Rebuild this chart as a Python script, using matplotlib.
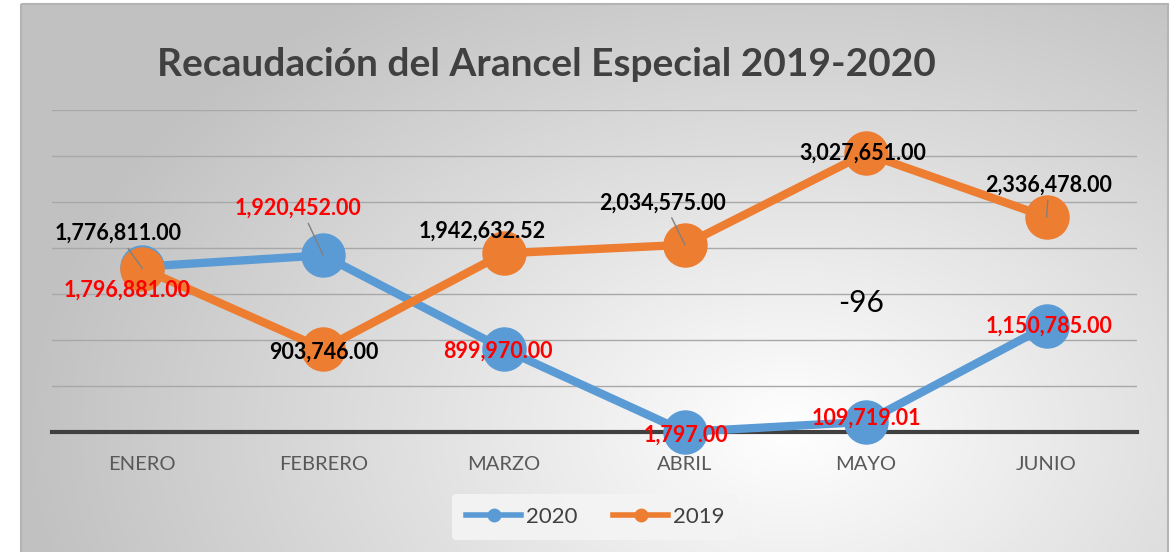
import numpy as np
import matplotlib.pyplot as plt
from matplotlib.lines import Line2D
from matplotlib.patches import Rectangle

plt.rcParams['font.family'] = ['Lato', 'DejaVu Sans']

meses = ["ENERO", "FEBRERO", "MARZO", "ABRIL", "MAYO", "JUNIO"]
v2020 = [1796881.00, 1920452.00, 899970.00, 1797.00, 109719.01, 1150785.00]
v2019 = [1776811.00, 903746.00, 1942632.52, 2034575.00, 3027651.00, 2336478.00]

titulo = "Recaudación del Arancel Especial 2019-2020"

# label offsets in pixels (dx, dy) from each point
off2020 = [(-15, -24), (-25, 47), (-6, -2), (1, -3), (1, 4), (2, 0)]
off2019 = [(-24, 35), (1, -3), (-22, 22), (-22, 42), (-3, 0), (2, 32)]
leader2020 = [False, True, False, False, False, False]
leader2019 = [True, False, False, True, False, True]

W, H = 1174, 552
fig = plt.figure(figsize=(W / 100, H / 100), dpi=100)

# background gradient
bg = fig.add_axes([0, 0, 1, 1])
yy, xx = np.mgrid[0:H, 0:W]
d = np.sqrt(((xx - 790) / 760.0) ** 2 + ((yy - 430) / 520.0) ** 2)
g = 1.0 - 0.24 * np.clip(d, 0, 1)
img = np.dstack([g, g, g])
img[:, :21] = 1
img[:, 1168:] = 1
img[:4, :] = 1
bg.imshow(img, extent=[0, W, H, 0], aspect='auto')
bg.add_patch(Rectangle((21, 4), 1147, 560, fill=False, ec='#b4b4b4', lw=1.5))
bg.set_xlim(0, W)
bg.set_ylim(H, 0)
bg.axis('off')

ax = fig.add_axes([52 / W, 1 - 432 / H, (1137 - 52) / W, (432 - 110) / H])
ax.patch.set_alpha(0)
x = np.arange(len(meses))
ax.set_xlim(-0.5, len(meses) - 0.5)
ax.set_ylim(0, 3500000)
ax.set_yticks(np.arange(0, 3500001, 500000))
ax.yaxis.grid(True, color='#a8a8a8', lw=1)
ax.set_axisbelow(True)
for s in ['top', 'right', 'left']:
    ax.spines[s].set_visible(False)
ax.spines['bottom'].set_color('#404040')
ax.spines['bottom'].set_linewidth(3)
ax.spines['bottom'].set_zorder(2)
ax.tick_params(axis='y', left=False, labelleft=False)
ax.tick_params(axis='x', length=0, pad=17, labelsize=14.5, labelcolor='#595959')
ax.set_xticks(x)
ax.set_xticklabels(meses)

ax.plot(x, v2020, color='#5B9BD5', lw=6, marker='o', ms=31, zorder=3, clip_on=False)
ax.plot(x, v2019, color='#ED7D31', lw=6, marker='o', ms=31, zorder=4, clip_on=False)


def etiquetas(vals, offs, leaders, color):
    for i, v in enumerate(vals):
        dx, dy = offs[i]
        ax.annotate(f"{v:,.2f}", (x[i], v), xytext=(dx, dy), textcoords='offset pixels',
                    ha='center', va='center', fontsize=15.5, fontweight='bold', color=color,
                    zorder=6, annotation_clip=False)
        if leaders[i]:
            ax.annotate("", (x[i], v), xytext=(dx * 0.6, dy - np.sign(dy) * 15),
                        textcoords='offset pixels',
                        arrowprops=dict(arrowstyle='-', color='#808080', lw=1, shrinkA=0, shrinkB=0),
                        zorder=5, annotation_clip=False)


etiquetas(v2020, off2020, leader2020, '#FF0000')
etiquetas(v2019, off2019, leader2019, 'black')

fig.text(861 / W, 1 - 303 / H, "-96", fontsize=21.5, ha='center', va='center', color='black')

fig.text(546 / W, 1 - 64 / H, titulo, fontsize=28, fontweight='bold', color='#404040',
         ha='center', va='center')

handles = [Line2D([], [], color='#5B9BD5', lw=4, marker='o', ms=9),
           Line2D([], [], color='#ED7D31', lw=4, marker='o', ms=9)]
leg = fig.legend(handles, ["2020", "2019"], loc='center', bbox_to_anchor=(595 / W, 1 - 517 / H),
                 ncol=2, frameon=True, fontsize=16, handlelength=2.5, columnspacing=1.6,
                 handletextpad=0.2, borderpad=0.6)
leg.get_frame().set_facecolor('#f4f4f4')
leg.get_frame().set_edgecolor('none')
leg.get_frame().set_alpha(0.9)
for t in leg.get_texts():
    t.set_color('#404040')

fig.savefig("out.png", dpi=100)
